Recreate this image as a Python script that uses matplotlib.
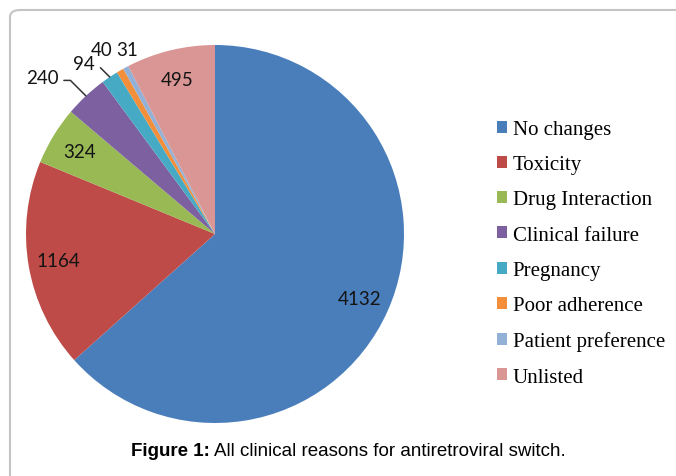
import numpy as np
import matplotlib.pyplot as plt
from matplotlib.patches import FancyBboxPatch

W, H = 676, 477

reasons = ['No changes', 'Toxicity', 'Drug Interaction', 'Clinical failure',
           'Pregnancy', 'Poor adherence', 'Patient preference', 'Unlisted']
counts = [4132, 1164, 324, 240, 94, 40, 31, 495]
colors = ['#4A7EBB', '#BE4B48', '#98B954', '#7D60A0',
          '#46AAC5', '#F38F3A', '#93B1D6', '#D99694']

# small slices get their numbers outside, some with a leader line
outside_pos = {3: (42, 78), 4: (84, 65), 5: (102, 50), 6: (127, 50)}
leader = {3, 4}

center = (215, H - 235)
radius = 189


def px(x, y):
    return x, H - y


fig = plt.figure(figsize=(W / 100, H / 100), dpi=100)
ax = fig.add_axes([0, 0, 1, 1])

wedges, _ = ax.pie(counts, colors=colors, startangle=90, counterclock=False,
                   center=center, radius=radius,
                   wedgeprops=dict(linewidth=0))
ax.set_xlim(0, W)
ax.set_ylim(0, H)
ax.set_aspect('equal')
ax.axis('off')

label_font = dict(family='Lato', fontsize=13.5, color='#141414')
for i, (w, n) in enumerate(zip(wedges, counts)):
    mid = np.deg2rad((w.theta1 + w.theta2) / 2)
    if i not in outside_pos:
        r = radius * 0.84
        ax.text(center[0] + r * np.cos(mid), center[1] + r * np.sin(mid), str(n),
                ha='center', va='center', **label_font)
        continue
    edge = (center[0] + radius * np.cos(mid), center[1] + radius * np.sin(mid))
    tx, ty = px(*outside_pos[i])
    if i in leader:
        ax.annotate(str(n), xy=edge, xytext=(tx, ty), ha='center', va='center',
                    arrowprops=dict(arrowstyle='-', color='#333333', lw=1.1,
                                    shrinkA=2, shrinkB=0, relpos=(1.0, 0.3),
                                    connectionstyle='angle,angleA=0,angleB=135,rad=0'),
                    **label_font)
    else:
        ax.text(tx, ty, str(n), ha='center', va='center', **label_font)

leg = ax.legend(wedges, reasons, loc='upper left', bbox_to_anchor=(497 / W, 1 - 121 / H),
                frameon=False, prop=dict(family='Liberation Serif', size=15),
                handlelength=0.5, handleheight=0.5, handletextpad=0.25,
                labelspacing=0.78, borderpad=0, borderaxespad=0)

# light frame around the chart, open to the right and bottom
frame = FancyBboxPatch((10 / W, -0.5), 2.0, 1.5 - 11 / H,
                       boxstyle='round,pad=0,rounding_size=0.015',
                       transform=fig.transFigure, fill=False,
                       edgecolor='#c4c4c4', linewidth=1.5)
fig.patches.append(frame)

cap_y = 1 - 452 / H
cap_size = 13.5
bold = fig.text(131 / W, cap_y, 'Figure 1:', family='Liberation Sans',
                fontweight='bold', fontsize=cap_size, va='center', ha='left')
fig.canvas.draw()
bb = bold.get_window_extent()
fig.text((bb.x1 + 4) / W, cap_y, 'All clinical reasons for antiretroviral switch.',
         family='Liberation Sans', fontsize=cap_size, va='center', ha='left')

fig.savefig('out.png', dpi=100)
